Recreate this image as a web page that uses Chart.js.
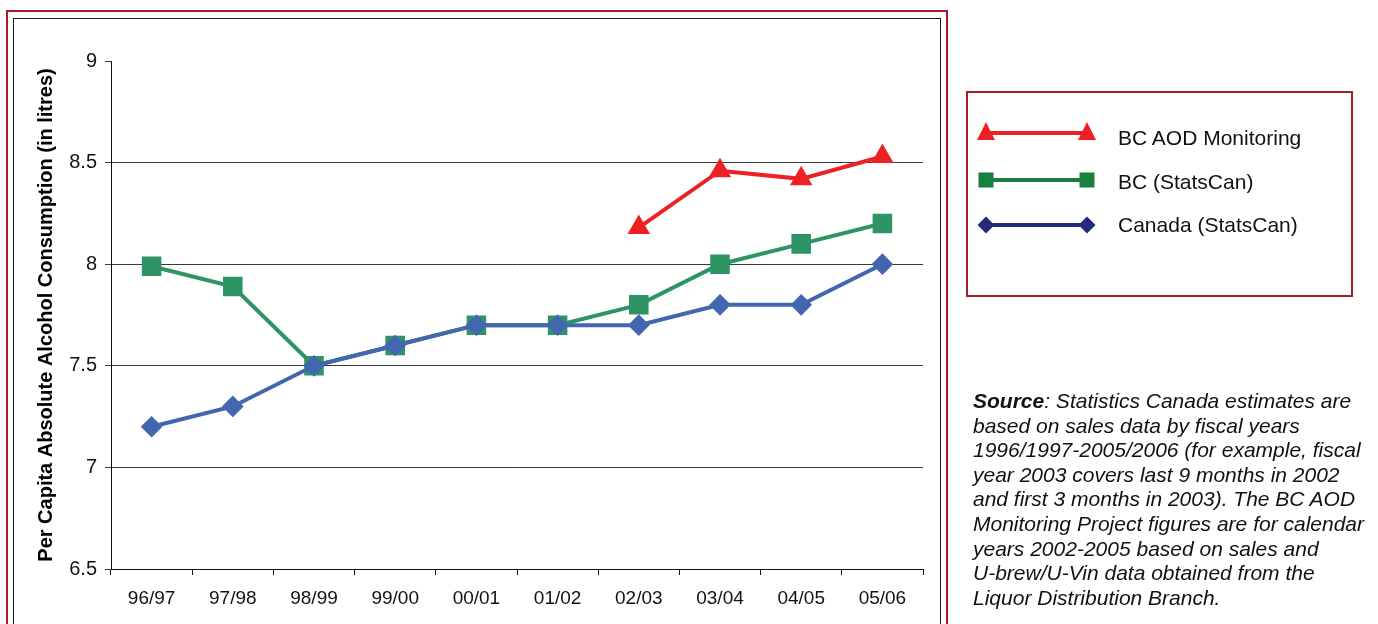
<!DOCTYPE html>
<html>
<head>
<meta charset="utf-8">
<script src="https://cdn.jsdelivr.net/npm/chart.js@4.4.0/dist/chart.umd.min.js"></script>
<style>
  html, body { margin: 0; padding: 0; background: #fff; overflow: hidden; }
  body { width: 1378px; height: 624px; position: relative; font-family: "Liberation Sans", Arial, sans-serif; }
  #outer { position: absolute; left: 6px; top: 10px; width: 942px; height: 700px; border: 2px solid #A31D2B; box-sizing: border-box; }
  #inner { position: absolute; left: 13px; top: 18px; width: 928px; height: 700px; border: 1.5px solid #1a1a1a; box-sizing: border-box; }
  #chartBox { position: absolute; left: 0; top: 0; width: 945px; height: 624px; }
  #legend { position: absolute; left: 966px; top: 91px; width: 387px; height: 206px; border: 2px solid #A31D2B; box-sizing: border-box; }
  #legendSvg { position: absolute; left: 0; top: 0; }
  .ltext { position: absolute; left: 1118px; font-size: 21px; line-height: 24px; color: #111; white-space: nowrap; }
  #source { position: absolute; left: 973px; top: 389px; font-size: 21px; line-height: 24.6px; font-style: italic; color: #111; white-space: nowrap; }
</style>
</head>
<body>
<div id="outer"></div>
<div id="inner"></div>
<div id="chartBox"><canvas id="c"></canvas></div>
<div id="legend"></div>
<svg id="legendSvg" width="1378" height="624"></svg>
<div class="ltext" id="lt0" style="top:126px"></div>
<div class="ltext" id="lt1" style="top:170px"></div>
<div class="ltext" id="lt2" style="top:213px"></div>
<div id="source"><b>Source</b>: Statistics Canada estimates are<br>based on sales data by fiscal years<br>1996/1997-2005/2006 (for example, fiscal<br>year 2003 covers last 9 months in 2002<br>and first 3 months in 2003). The BC AOD<br>Monitoring Project figures are for calendar<br>years 2002-2005 based on sales and<br>U-brew/U-Vin data obtained from the<br>Liquor Distribution Branch.</div>
<script>
const categories = ["96/97", "97/98", "98/99", "99/00", "00/01", "01/02", "02/03", "03/04", "04/05", "05/06"];
const bcAod = [null, null, null, null, null, null, 8.18, 8.46, 8.42, 8.53];
const bcStatsCan = [7.99, 7.89, 7.5, 7.6, 7.7, 7.7, 7.8, 8.0, 8.1, 8.2];
const canadaStatsCan = [7.2, 7.3, 7.5, 7.6, 7.7, 7.7, 7.7, 7.8, 7.8, 8.0];
const seriesNames = ["BC AOD Monitoring", "BC (StatsCan)", "Canada (StatsCan)"];
const yTicks = [6.5, 7, 7.5, 8, 8.5, 9];
const yTitle = "Per Capita Absolute Alcohol Consumption (in litres)";

const FONT = "'Liberation Sans', Arial, sans-serif";

// legend
seriesNames.forEach((n, i) => { document.getElementById('lt' + i).textContent = n; });
(function drawLegend() {
  const svg = document.getElementById('legendSvg');
  const x1 = 986, x2 = 1087;
  const rows = [
    { y: 133, color: '#EE2024', shape: 'tri' },
    { y: 180, color: '#17803F', shape: 'sq' },
    { y: 225, color: '#232A7A', shape: 'dia' }
  ];
  let s = '';
  rows.forEach(r => {
    s += `<line x1="${x1}" y1="${r.y}" x2="${x2}" y2="${r.y}" stroke="${r.color}" stroke-width="4"/>`;
    [x1, x2].forEach(x => {
      if (r.shape === 'tri') s += `<polygon points="${x},${r.y - 11} ${x + 9},${r.y + 7} ${x - 9},${r.y + 7}" fill="${r.color}"/>`;
      else if (r.shape === 'sq') s += `<rect x="${x - 7.5}" y="${r.y - 7.5}" width="15" height="15" fill="${r.color}"/>`;
      else s += `<polygon points="${x},${r.y - 8.5} ${x + 8.5},${r.y} ${x},${r.y + 8.5} ${x - 8.5},${r.y}" fill="${r.color}"/>`;
    });
  });
  svg.innerHTML = s;
})();

new Chart(document.getElementById('c'), {
  type: 'line',
  data: {
    labels: categories,
    datasets: [
      { label: seriesNames[0], data: bcAod, borderColor: '#ED2024', backgroundColor: '#ED2024', borderWidth: 4, pointStyle: 'triangle', pointRadius: 9, pointHoverRadius: 9, tension: 0, spanGaps: false },
      { label: seriesNames[1], data: bcStatsCan, borderColor: '#2E9466', backgroundColor: '#2E9466', borderWidth: 4, pointStyle: 'rect', pointRadius: 11, pointHoverRadius: 11, tension: 0 },
      { label: seriesNames[2], data: canadaStatsCan, borderColor: '#4366B0', backgroundColor: '#4366B0', borderWidth: 4, pointStyle: 'rectRot', pointRadius: 8, pointHoverRadius: 8, tension: 0 }
    ].reverse()
  },
  options: {
    responsive: true,
    maintainAspectRatio: false,
    animation: false,
    layout: { padding: { top: 61, right: 22, left: 0, bottom: 0 } },
    plugins: { legend: { display: false }, tooltip: { enabled: false } },
    scales: {
      x: {
        offset: true,
        grid: { offset: true, drawOnChartArea: false, tickLength: 6, tickColor: '#111', color: '#111' },
        border: { color: '#111', width: 1 },
        ticks: { font: { family: FONT, size: 19 }, color: '#111', padding: 12, maxRotation: 0, autoSkip: false },
        afterFit: s => { s.height = 55; }
      },
      y: {
        min: 6.5, max: 9,
        afterBuildTicks: s => { s.ticks = yTicks.map(v => ({ value: v })); },
        grid: {
          color: ctx => (ctx.tick && ctx.tick.value === 9) ? 'rgba(0,0,0,0)' : '#3a3a3a',
          tickColor: '#3a3a3a', tickLength: 6, lineWidth: 1
        },
        border: { color: '#111', width: 1 },
        ticks: { font: { family: FONT, size: 20 }, color: '#111', padding: 8, callback: v => String(v) },
        title: { display: true, text: yTitle, font: { family: FONT, size: 20, weight: 'bold' }, color: '#000', padding: { top: 34, bottom: 0 } },
        afterFit: s => { s.width = 111; }
      }
    }
  }
});
</script>
</body>
</html>
